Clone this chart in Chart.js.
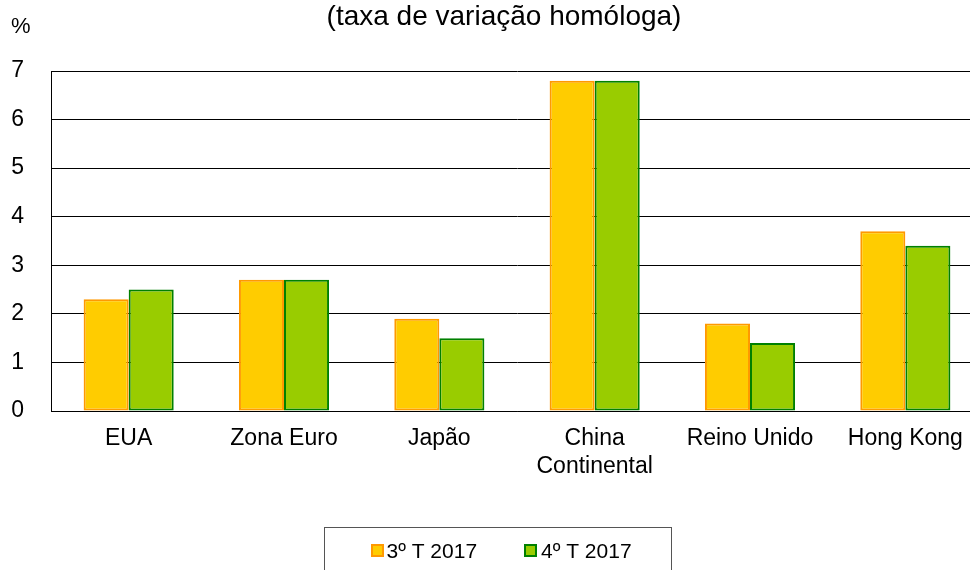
<!DOCTYPE html>
<html>
<head>
<meta charset="utf-8">
<script src="https://cdn.jsdelivr.net/npm/chart.js@4/dist/chart.umd.min.js"></script>
<style>
  html, body { margin: 0; padding: 0; background: #fff; }
  #wrap { width: 970px; height: 570px; overflow: hidden; position: relative; }
  canvas { display: block; }
</style>
</head>
<body>
<div id="wrap"><canvas id="gdpChart" width="990" height="570"></canvas></div>
<script>
// Data
const categories = ['EUA', 'Zona Euro', 'Japão', ['China', 'Continental'], 'Reino Unido', 'Hong Kong'];
const q3_2017 = [2.3, 2.7, 1.9, 6.8, 1.8, 3.7];
const q4_2017 = [2.5, 2.7, 1.5, 6.8, 1.4, 3.4];
const seriesLabels = ['3º T 2017', '4º T 2017'];
const yTicks = [0, 1, 2, 3, 4, 5, 6, 7];
const titleText = '(taxa de variação homóloga)';
const unitText = '%';

const fontFamily = '"Liberation Sans", Arial, sans-serif';

// Title, unit label and boxed legend
const decorations = {
  id: 'decorations',
  afterDraw(chart) {
    const ctx = chart.ctx;
    ctx.save();
    ctx.fillStyle = '#000';
    ctx.textBaseline = 'alphabetic';
    ctx.font = '28px ' + fontFamily;
    ctx.textAlign = 'center';
    ctx.fillText(titleText, 504, 25);
    ctx.font = '22px ' + fontFamily;
    ctx.textAlign = 'left';
    ctx.fillText(unitText, 11, 33);

    // legend box
    ctx.strokeStyle = '#555';
    ctx.lineWidth = 1;
    ctx.strokeRect(324.5, 527.5, 347, 60);
    const items = [{ sx: 372, tx: 386.5 }, { sx: 525, tx: 541 }];
    ctx.font = '21px ' + fontFamily;
    chart.data.datasets.forEach((ds, i) => {
      const it = items[i];
      ctx.fillStyle = ds.backgroundColor;
      ctx.fillRect(it.sx, 545, 11, 11);
      ctx.strokeStyle = ds.borderColor;
      ctx.lineWidth = 2;
      ctx.strokeRect(it.sx, 545, 11, 11);
      ctx.fillStyle = '#000';
      ctx.fillText(ds.label, it.tx, 558);
    });
    ctx.restore();
  }
};

new Chart(document.getElementById('gdpChart'), {
  type: 'bar',
  data: {
    labels: categories,
    datasets: [
      { label: seriesLabels[0], data: q3_2017, backgroundColor: '#FFCC00', borderColor: '#FF9900', borderWidth: 2, borderSkipped: false },
      { label: seriesLabels[1], data: q4_2017, backgroundColor: '#99CC00', borderColor: '#008000', borderWidth: 2, borderSkipped: false }
    ]
  },
  options: {
    responsive: false,
    animation: false,
    layout: { padding: { top: 71, right: 7, bottom: 0, left: 0 } },
    categoryPercentage: 0.58,
    barPercentage: 1,
    plugins: { legend: { display: false }, tooltip: { enabled: false } },
    scales: {
      x: {
        grid: { display: false, drawTicks: false },
        border: { color: '#000', width: 1 },
        ticks: { color: '#000', font: { family: fontFamily, size: 23 }, padding: 14, maxRotation: 0, autoSkip: false },
        afterFit(s) { s.height = 159; }
      },
      y: {
        min: 0, max: 7,
        afterBuildTicks(s) { s.ticks = yTicks.map(v => ({ value: v })); },
        grid: { color: '#000', lineWidth: 1, drawTicks: false },
        border: { color: '#000', width: 1 },
        ticks: { color: '#000', font: { family: fontFamily, size: 23 }, padding: 27 },
        afterFit(s) { s.width = 51; }
      }
    }
  },
  plugins: [decorations]
});
</script>
</body>
</html>
